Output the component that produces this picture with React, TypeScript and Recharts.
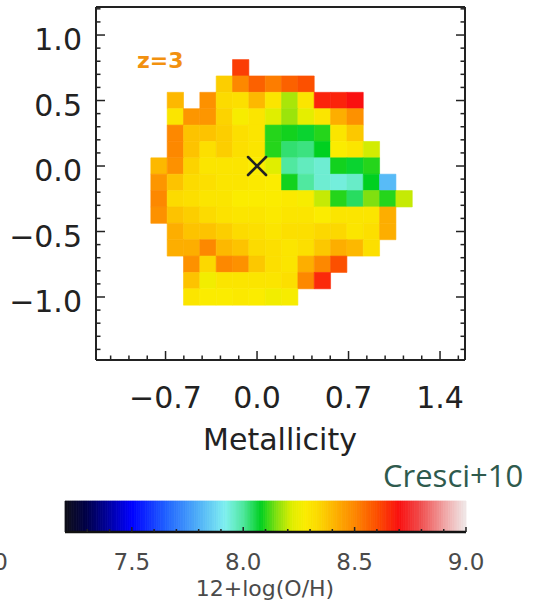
import React from 'react';
import { ScatterChart, Scatter, XAxis, YAxis, ReferenceArea } from 'recharts';

const n = null;

// cell centres of the map (arcsec-ish units, as on the axes)
const COLS = [-0.75, -0.625, -0.5, -0.375, -0.25, -0.125, 0, 0.125, 0.25, 0.375, 0.5, 0.625, 0.75, 0.875, 1.0, 1.125];
const ROWS = [0.75, 0.625, 0.5, 0.375, 0.25, 0.125, 0, -0.125, -0.25, -0.375, -0.5, -0.625, -0.75, -0.875, -1.0];

// 12+log(O/H) per cell, one list per row (top to bottom), null = no data
const OH_ROWS: (number | null)[][] = [
  [n, n, n, n, n, 8.63, n, n, n, n, n, n, n, n, n, n],
  [n, n, n, n, 8.36, 8.5, 8.57, 8.52, 8.57, 8.6, n, n, n, n, n, n],
  [n, 8.4, n, 8.48, 8.33, 8.32, 8.4, 8.3, 8.18, 8.3, 8.67, 8.67, 8.7, n, n, n],
  [n, 8.3, 8.47, 8.47, 8.35, 8.27, 8.3, 8.22, 8.17, 8.23, 8.3, 8.42, 8.48, n, n, n],
  [n, 8.5, 8.38, 8.38, 8.36, 8.32, 8.3, 8.1, 8.09, 8.07, 8.1, 8.3, 8.37, n, n, n],
  [n, 8.5, 8.38, 8.32, 8.36, 8.32, 8.3, 8.1, 8.03, 8.02, 8.08, 8.28, 8.3, 8.21, n, n],
  [8.4, 8.48, 8.35, 8.3, 8.3, 8.3, 8.28, 8.22, 8.0, 7.97, 7.95, 8.09, 8.07, 8.1, n, n],
  [8.47, 8.38, 8.33, 8.32, 8.3, 8.3, 8.29, 8.28, 8.09, 8.0, 7.95, 7.94, 7.96, 8.08, 7.82, n],
  [8.5, 8.33, 8.32, 8.3, 8.3, 8.28, 8.28, 8.28, 8.29, 8.27, 8.2, 8.1, 8.04, 8.15, 8.1, 8.2],
  [8.48, 8.38, 8.36, 8.33, 8.31, 8.3, 8.3, 8.29, 8.3, 8.3, 8.28, 8.3, 8.3, 8.3, 8.42, n],
  [n, 8.42, 8.38, 8.38, 8.36, 8.33, 8.32, 8.3, 8.32, 8.32, 8.34, 8.34, 8.3, 8.32, 8.42, n],
  [n, 8.42, 8.42, 8.5, 8.4, 8.38, 8.33, 8.32, 8.3, 8.32, 8.37, 8.42, 8.4, 8.32, n, n],
  [n, n, 8.48, 8.34, 8.5, 8.48, 8.37, 8.32, 8.3, 8.42, 8.5, 8.6, n, n, n, n],
  [n, n, 8.38, 8.26, 8.3, 8.3, 8.3, 8.3, 8.32, 8.5, 8.66, n, n, n, n, n],
  [n, n, 8.3, 8.28, 8.28, 8.29, 8.28, 8.26, 8.27, n, n, n, n, n, n, n],
];

const CENTER = [{ x: 0, y: 0 }];

const X_TICKS = [-1.12, -0.98, -0.84, -0.7, -0.56, -0.42, -0.28, -0.14, 0, 0.14, 0.28, 0.42, 0.56, 0.7, 0.84, 0.98, 1.12, 1.26, 1.4, 1.54];
const X_MAJOR = [-0.7, 0, 0.7, 1.4];
const Y_TICKS = [-1.4, -1.3, -1.2, -1.1, -1.0, -0.9, -0.8, -0.7, -0.6, -0.5, -0.4, -0.3, -0.2, -0.1, 0, 0.1, 0.2, 0.3, 0.4, 0.5, 0.6, 0.7, 0.8, 0.9, 1.0, 1.1, 1.2];
const Y_MAJOR = [-1.0, -0.5, 0, 0.5, 1.0];
const CB_TICKS = [7.3, 7.4, 7.5, 7.6, 7.7, 7.8, 7.9, 8.0, 8.1, 8.2, 8.3, 8.4, 8.5, 8.6, 8.7, 8.8, 8.9, 9.0];
const CB_MAJOR = [7.5, 8.0, 8.5, 9.0];

const X_DOMAIN: [number, number] = [-1.232, 1.591];
const Y_DOMAIN: [number, number] = [-1.481, 1.214];
const CB_DOMAIN: [number, number] = [7.2, 9.0];
const HALF = 0.0625; // half a spaxel
const CB_STEP = 0.01; // colour bar slice width

// IDL-like rainbow + white table
const CMAP: [number, string][] = [
  [7.2, '#101018'], [7.3, '#00004a'], [7.5, '#0000ff'], [7.65, '#2060ff'],
  [7.8, '#50b0f8'], [7.92, '#80f0f0'], [8.0, '#50e8a0'], [8.08, '#00d020'],
  [8.15, '#80e010'], [8.22, '#e0ee00'], [8.28, '#fbec00'], [8.34, '#fcd800'],
  [8.42, '#fdae00'], [8.5, '#fd8800'], [8.6, '#fc5000'], [8.7, '#fa1010'],
  [8.8, '#f05050'], [8.92, '#f0b0b0'], [9.0, '#f0e8e8'],
];

const INK = '#222';
const FONT = "'DejaVu Sans', sans-serif";

const hex = (h: string) => [1, 3, 5].map(i => parseInt(h.slice(i, i + 2), 16));

function ohColor(v: number) {
  if (v <= CMAP[0][0]) return CMAP[0][1];
  for (let i = 1; i < CMAP.length; i++) {
    const [v1, c1] = CMAP[i];
    if (v <= v1) {
      const [v0, c0] = CMAP[i - 1];
      const t = (v - v0) / (v1 - v0);
      const a = hex(c0), b = hex(c1);
      return `rgb(${a.map((x, k) => Math.round(x + (b[k] - x) * t)).join(',')})`;
    }
  }
  return CMAP[CMAP.length - 1][1];
}

const isMajor = (v: number, majors: number[]) => majors.some(m => Math.abs(m - v) < 1e-6);
const fmt = (v: number) => (v < -1e-9 ? '\u2212' : '') + Math.abs(v).toFixed(1);

// ticks point inward, IDL style
const makeTick = (side: 'bottom' | 'top' | 'left' | 'right', majors: number[], big: number, small: number, label?: { dx: number; dy: number; size: number; color: string }) =>
  (props: any) => {
    const { x, y, payload } = props;
    const v = payload.value;
    const major = isMajor(v, majors);
    const len = major ? big : small;
    let x2 = x, y2 = y;
    if (side === 'bottom') y2 = y - len;
    if (side === 'top') y2 = y + len;
    if (side === 'left') x2 = x + len;
    if (side === 'right') x2 = x - len;
    return (
      <g>
        <line x1={x} y1={y} x2={x2} y2={y2} stroke={INK} strokeWidth={1.5} />
        {label && major && (
          <text x={x + label.dx} y={y + label.dy} fontSize={label.size} fill={label.color} fontFamily={FONT}
            textAnchor={side === 'left' ? 'end' : 'middle'}>
            {fmt(v)}
          </text>
        )}
      </g>
    );
  };

const cells = ROWS.flatMap((y, r) =>
  OH_ROWS[r].flatMap((v, c) => (v == null ? [] : [{ x: COLS[c], y, v }]))
);

// colour bar slices across the full range
const slices = Array.from({ length: Math.round((CB_DOMAIN[1] - CB_DOMAIN[0]) / CB_STEP) }, (_, i) => {
  const a = CB_DOMAIN[0] + i * CB_STEP;
  return { a, b: Math.min(a + CB_STEP, CB_DOMAIN[1]), col: ohColor(a + CB_STEP / 2) };
});

const Cross = (p: any) => (
  <g stroke={INK} strokeWidth={2.6} strokeLinecap="round">
    <line x1={p.cx - 9} y1={p.cy - 9} x2={p.cx + 9} y2={p.cy + 9} />
    <line x1={p.cx - 9} y1={p.cy + 9} x2={p.cx + 9} y2={p.cy - 9} />
  </g>
);

const frame = { stroke: INK, strokeWidth: 2 };

export default function App() {
  return (
    <div style={{ position: 'absolute', left: 0, top: 0, width: 535, height: 608, background: '#fff', overflow: 'hidden' }}>
      <div style={{ position: 'absolute', left: 0, top: 0 }}>
        <ScatterChart width={535} height={470} margin={{ top: 6, right: 69, bottom: 0, left: 0 }}>
          <XAxis xAxisId="b" type="number" dataKey="x" domain={X_DOMAIN} allowDataOverflow ticks={X_TICKS} interval={0}
            height={110} tickSize={0} tickMargin={0} tickLine={false} axisLine={frame}
            tick={makeTick('bottom', X_MAJOR, 9, 4.5, { dx: 0, dy: 48, size: 30, color: INK })} />
          <XAxis xAxisId="t" orientation="top" type="number" domain={X_DOMAIN} allowDataOverflow ticks={X_TICKS} interval={0}
            height={1} tickSize={0} tickMargin={0} tickLine={false} axisLine={frame}
            tick={makeTick('top', X_MAJOR, 9, 4.5)} />
          <YAxis yAxisId="l" type="number" dataKey="y" domain={Y_DOMAIN} allowDataOverflow ticks={Y_TICKS} interval={0}
            width={96} tickSize={0} tickMargin={0} tickLine={false} axisLine={frame}
            tick={makeTick('left', Y_MAJOR, 9, 4.5, { dx: -14, dy: 15, size: 30, color: INK })} />
          <YAxis yAxisId="r" orientation="right" type="number" domain={Y_DOMAIN} allowDataOverflow ticks={Y_TICKS} interval={0}
            width={1} tickSize={0} tickMargin={0} tickLine={false} axisLine={frame}
            tick={makeTick('right', Y_MAJOR, 9, 4.5)} />
          {cells.map((c, i) => {
            const col = ohColor(c.v);
            return (
              <ReferenceArea key={i} xAxisId="b" yAxisId="l" x1={c.x - HALF} x2={c.x + HALF} y1={c.y - HALF} y2={c.y + HALF}
                fill={col} fillOpacity={1} stroke={col} strokeWidth={0.6} />
            );
          })}
          <Scatter xAxisId="b" yAxisId="l" data={CENTER} shape={Cross} isAnimationActive={false} />
        </ScatterChart>
      </div>

      <div style={{ position: 'absolute', left: 0, top: 480 }}>
        <ScatterChart width={535} height={128} margin={{ top: 21, right: 69, bottom: 0, left: 64 }}>
          <XAxis xAxisId="c" type="number" dataKey="x" domain={CB_DOMAIN} allowDataOverflow ticks={CB_TICKS} interval={0}
            height={76} tickSize={0} tickMargin={0} tickLine={false} axisLine={{ stroke: '#111', strokeWidth: 2.5 }}
            tick={makeTick('bottom', CB_MAJOR, 5, 3, { dx: 0, dy: 38, size: 23, color: '#4a4a4a' })} />
          <YAxis yAxisId="c" type="number" dataKey="y" domain={[0, 1]} allowDataOverflow width={1}
            axisLine={false} tickLine={false} tick={false} />
          {slices.map((s, i) => (
            <ReferenceArea key={i} xAxisId="c" yAxisId="c" x1={s.a} x2={s.b} y1={0} y2={1}
              fill={s.col} fillOpacity={1} stroke={s.col} strokeWidth={0.8} ifOverflow="extendDomain" />
          ))}
          <Scatter xAxisId="c" yAxisId="c" data={[{ x: 8.0, y: 0.5 }]} shape={() => <g />} isAnimationActive={false} />
        </ScatterChart>
      </div>

      <svg width={535} height={608} style={{ position: 'absolute', left: 0, top: 0, pointerEvents: 'none' }}>
        <text x={137} y={68} fontSize={22} fontWeight="bold" fill="#f2910f" fontFamily={FONT}>z=3</text>
        <text x={280} y={450} fontSize={30} fill={INK} fontFamily={FONT} textAnchor="middle">Metallicity</text>
        <text x={383} y={487} fontSize={31} fill="#2f5a4d" fontFamily="'Open Sans', sans-serif">Cresci+10</text>
        <text x={265} y={596} fontSize={22} fill="#4a4a4a" fontFamily={FONT} textAnchor="middle">12+log(O/H)</text>
        <text x={8} y={570} fontSize={23} fill="#4a4a4a" fontFamily={FONT} textAnchor="end">0</text>
      </svg>
    </div>
  );
}
